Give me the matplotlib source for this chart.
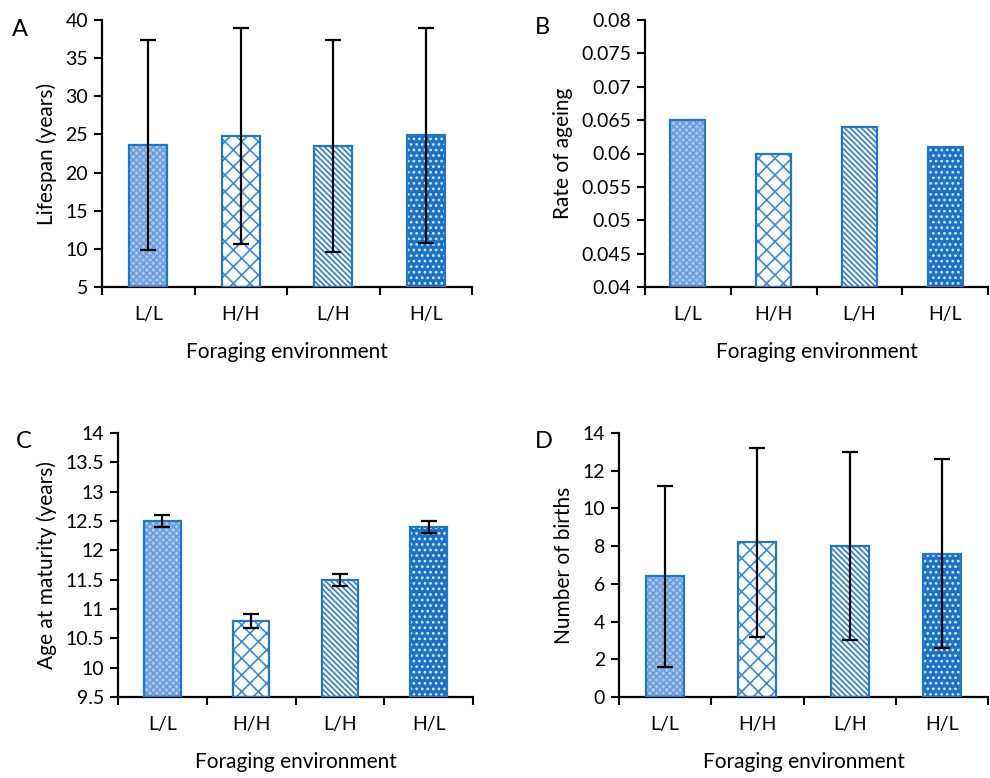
import matplotlib
matplotlib.use("Agg")
import matplotlib.pyplot as plt
import numpy as np

plt.rcParams['font.family'] = ['Lato', 'DejaVu Sans']
plt.rcParams['hatch.linewidth'] = 1.2

categories = ["L/L", "H/H", "L/H", "H/L"]

lifespan = [23.6, 24.8, 23.5, 24.9]
lifespan_err = [13.8, 14.1, 13.9, 14.1]

ageing = [0.065, 0.060, 0.064, 0.061]

maturity = [12.5, 10.8, 11.5, 12.4]
maturity_err = [0.10, 0.12, 0.10, 0.10]

births = [6.4, 8.2, 8.0, 7.6]
births_err = [4.8, 5.0, 5.0, 5.0]

EDGE = '#1f77c9'
styles = [
    dict(face='#a6c5ea', hcol='#6b9fdb', hatch='xxxxx'),
    dict(face='white', hcol='#3d8ad6', hatch='xx'),
    dict(face='white', hcol='#2a7fd0', hatch='\\\\\\\\\\\\'),
    dict(face='#1a72c6', hcol='#d6e6f7', hatch='...'),
]

W, H = 990, 778
fig = plt.figure(figsize=(W / 100, H / 100), dpi=100)

def rect(l, r, t, b):
    return [l / W, (H - b) / H, (r - l) / W, (b - t) / H]

panels = [
    dict(pos=rect(102, 472, 20, 287), vals=lifespan, err=lifespan_err,
         ylim=(5, 40), ticks=np.arange(5, 41, 5), fmt=lambda v: f"{v:g}",
         ylabel="Lifespan (years)", letter="A", lpos=(12, 30)),
    dict(pos=rect(645, 988, 20, 287), vals=ageing, err=None,
         ylim=(0.04, 0.08), ticks=np.arange(0.04, 0.0801, 0.005),
         fmt=lambda v: f"{round(v, 3):g}",
         ylabel="Rate of ageing", letter="B", lpos=(535, 28)),
    dict(pos=rect(118, 473, 433, 697), vals=maturity, err=maturity_err,
         ylim=(9.5, 14), ticks=np.arange(9.5, 14.01, 0.5), fmt=lambda v: f"{v:g}",
         ylabel="Age at maturity (years)", letter="C", lpos=(16, 441)),
    dict(pos=rect(619, 988, 433, 697), vals=births, err=births_err,
         ylim=(0, 14), ticks=np.arange(0, 14.01, 2), fmt=lambda v: f"{v:g}",
         ylabel="Number of births", letter="D", lpos=(535, 441)),
]

x = np.arange(len(categories))
bw = 0.41
for p in panels:
    ax = fig.add_axes(p['pos'])
    base = p['ylim'][0]
    for i, v in enumerate(p['vals']):
        s = styles[i]
        ax.bar(x[i], v - base, bw, bottom=base, color=s['face'], edgecolor=s['hcol'],
               hatch=s['hatch'], linewidth=0, zorder=2)
        ax.bar(x[i], v - base, bw, bottom=base, fill=False, edgecolor=EDGE,
               linewidth=1.6, zorder=3)
    if p['err'] is not None:
        ax.errorbar(x, p['vals'], yerr=p['err'], fmt='none', ecolor='black',
                    elinewidth=1.6, capsize=6, capthick=1.6, zorder=4)
    ax.set_xlim(-0.5, 3.5)
    ax.set_ylim(*p['ylim'])
    ax.set_yticks(p['ticks'])
    ax.set_yticklabels([p['fmt'](t) for t in p['ticks']], fontsize=14)
    ax.set_xticks([-0.5, 0.5, 1.5, 2.5, 3.5])
    ax.set_xticklabels([])
    ax.set_xticks(x, minor=True)
    ax.set_xticklabels(categories, minor=True, fontsize=14)
    ax.tick_params(axis='x', which='minor', length=0, pad=14)
    ax.tick_params(axis='x', which='major', length=6, width=1.5, direction='out')
    ax.tick_params(axis='y', length=6, width=1.5, direction='out', pad=4)
    for sp in ['top', 'right']:
        ax.spines[sp].set_visible(False)
    for sp in ['left', 'bottom']:
        ax.spines[sp].set_linewidth(1.6)
    ax.set_xlabel("Foraging environment", fontsize=15, labelpad=13)
    ax.set_ylabel(p['ylabel'], fontsize=15, labelpad=6)
    fig.text(p['lpos'][0] / W, 1 - p['lpos'][1] / H, p['letter'], fontsize=17,
             ha='left', va='center')

fig.savefig("out.png", dpi=100)
